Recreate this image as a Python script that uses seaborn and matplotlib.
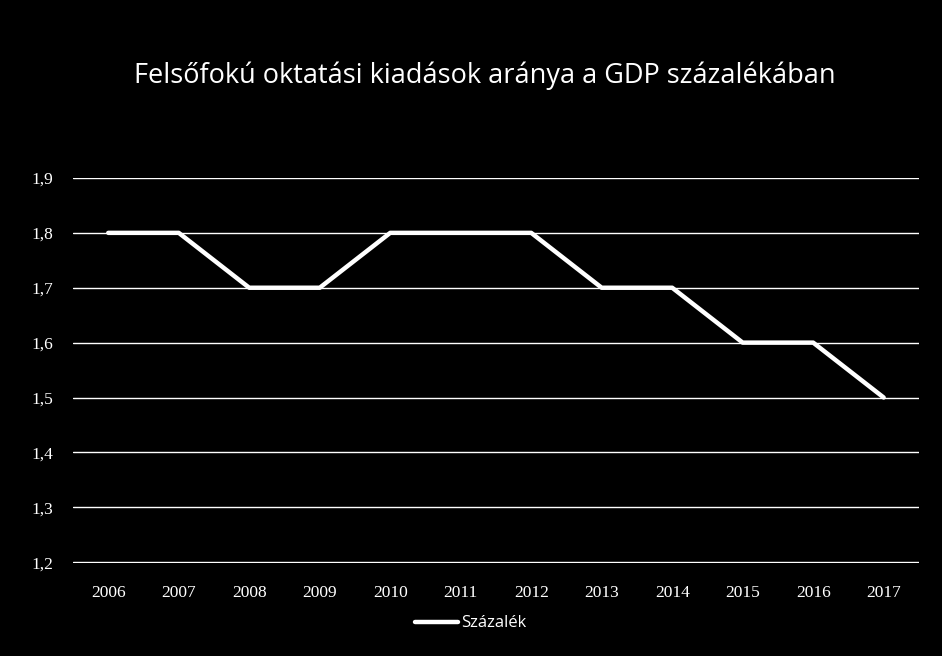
import pandas as pd
import matplotlib.pyplot as plt
import matplotlib.ticker as mticker
import seaborn as sns

# Chart data
years = ['2006', '2007', '2008', '2009', '2010', '2011',
         '2012', '2013', '2014', '2015', '2016', '2017']
szazalek = [1.8, 1.8, 1.7, 1.7, 1.8, 1.8, 1.8, 1.7, 1.7, 1.6, 1.6, 1.5]
y_ticks = [1.2, 1.3, 1.4, 1.5, 1.6, 1.7, 1.8, 1.9]

df = pd.DataFrame({'Év': years, 'Százalék': szazalek})

sns.set_style('dark')
plt.rcParams['font.family'] = ['Open Sans', 'DejaVu Sans']

fig = plt.figure(figsize=(9.42, 6.56), dpi=100, facecolor='black')
ax = fig.add_axes([0.0775, 0.1418, 0.898, 0.5869])
ax.set_facecolor('black')

sns.lineplot(data=df, x='Év', y='Százalék', color='white', linewidth=3.2,
             label='Százalék', ax=ax, sort=False)

ax.set_xlim(-0.5, len(years) - 0.5)
ax.set_ylim(1.1985, 1.9)
ax.set_yticks(y_ticks)
ax.yaxis.set_major_formatter(mticker.FuncFormatter(lambda v, p: f'{v:.1f}'.replace('.', ',')))
ax.grid(axis='y', color='white', linewidth=1.0)
ax.grid(axis='x', visible=False)
ax.set_axisbelow(True)
for s in ax.spines.values():
    s.set_visible(False)
ax.tick_params(colors='white', length=0)
ax.tick_params(axis='x', pad=16)
ax.tick_params(axis='y', pad=14)
for lbl in ax.get_xticklabels() + ax.get_yticklabels():
    lbl.set_color('white')
    lbl.set_family(['Liberation Serif', 'DejaVu Serif'])
    lbl.set_fontsize(12.5)
ax.set_xlabel('')
ax.set_ylabel('')

fig.text(0.515, 0.885, 'Felsőfokú oktatási kiadások aránya a GDP százalékában',
         ha='center', va='center', color='white', fontsize=19.5)

leg = ax.legend(loc='center', bbox_to_anchor=(0.47, -0.157), frameon=False,
                fontsize=12, handlelength=2.6, handletextpad=0.2)
for t in leg.get_texts():
    t.set_color('white')

fig.savefig('out.png', dpi=100, facecolor='black')
